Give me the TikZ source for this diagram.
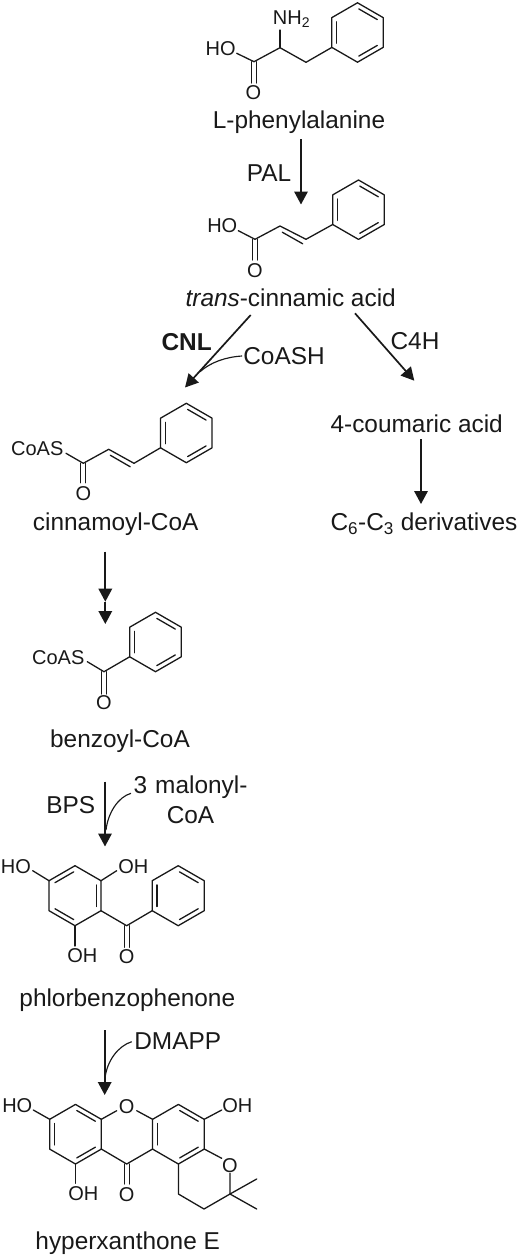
\documentclass[tikz,border=0pt]{standalone}
\usepackage{fontspec}
\setmainfont{Liberation Sans}
\usetikzlibrary{arrows.meta}
\definecolor{ink}{gray}{0.1}
\tikzset{
  bondline/.style={draw=ink,line width=1.3pt,line join=round,line cap=round},
  inner/.style={bondline,shorten <=1.5pt,shorten >=1.5pt},
  rxn/.style={draw=ink,line width=1.7pt,-{Triangle[length=13pt,width=13.5pt]}},
  side/.style={draw=ink,line width=1.15pt},
  cname/.style={text=ink,inner sep=0pt,font=\fontsize{24.4}{28}\selectfont,align=center},
  atom/.style={text=ink,inner sep=0pt,font=\fontsize{20}{22}\selectfont},
}
\newcommand{\hexring}[3]{%
  \draw[bondline] (#1,#2) ++(90:#3) -- ++(-30:#3) -- ++(-90:#3) -- ++(-150:#3) -- ++(150:#3) -- ++(90:#3) -- cycle;
}
\newcommand{\hexin}[4]{%
  \foreach \a/\b in {#4} {\draw[inner] ([shift={(-\a:0.82*#3)}]#1,#2) -- ([shift={(-\b:0.82*#3)}]#1,#2);}%
}
\begin{document}
\begin{tikzpicture}[x=1pt,y=-1pt]
\useasboundingbox (0,0) rectangle (520,1258);
\fill[white] (0,0) rectangle (520,1258);

% --- L-phenylalanine
\hexring{357.5}{32.5}{29.7}
\hexin{357.5}{32.5}{29.7}{-90/-30,30/90,150/210}
\draw[bondline] (331.7,47.5) -- (306,62.3) -- (280,47.7) -- (254,61.7) -- (236.7,53.3);
\draw[bondline] (280,47.7) -- (280,30);
\draw[bondline] (251.5,61.7) -- (251.5,83);
\draw[bondline] (256.5,61.7) -- (256.5,83);
\node[atom] (pheHO) at (220.7,48.3) {HO};
\node[atom] (pheNH) at (291.5,19) {NH\textsubscript{2}};
\node[atom] (pheO) at (253.5,93) {O};
\node[cname] (phe) at (299,122.5) {L-phenylalanine};

% --- trans-cinnamic acid
\hexring{358.5}{209.7}{29.7}
\hexin{358.5}{209.7}{29.7}{-90/-30,30/90,150/210}
\draw[bondline] (332.7,224.5) -- (306,239.3) -- (280,226) -- (255,239.3) -- (238.3,230.7);
\draw[inner] (281,231.5) -- (304,244.5);
\draw[bondline] (252.5,239.3) -- (252.5,260);
\draw[bondline] (257.5,239.3) -- (257.5,260);
\node[atom] (ciaHO) at (222.3,226) {HO};
\node[atom] (ciaO) at (255,270.5) {O};
\node[cname] (cia) at (290.7,297.5) {\textit{trans}-cinnamic acid};

% --- cinnamoyl-CoA
\hexring{186.3}{433}{29.7}
\hexin{186.3}{433}{29.7}{-90/-30,30/90,150/210}
\draw[bondline] (160.7,447.7) -- (134,463.3) -- (108.7,449.3) -- (83.3,463.3) -- (66,453.3);
\draw[inner] (109,454.5) -- (131.5,467.5);
\draw[bondline] (80.8,463.3) -- (80.8,482.7);
\draw[bondline] (85.8,463.3) -- (85.8,482.7);
\node[atom] (cinS) at (37.3,449) {CoAS};
\node[atom] (cinO) at (83.3,493.5) {O};
\node[cname] (cin) at (115.7,524) {cinnamoyl-CoA};

% --- benzoyl-CoA
\hexring{155.5}{642}{29.7}
\hexin{155.5}{642}{29.7}{-90/-30,30/90,150/210}
\draw[bondline] (129.5,656.9) -- (104,671.7) -- (87.3,661.7);
\draw[bondline] (101.5,671.7) -- (101.5,694);
\draw[bondline] (106.5,671.7) -- (106.5,694);
\node[atom] (bzS) at (58.3,658) {CoAS};
\node[atom] (bzO) at (104,703) {O};
\node[cname] (bz) at (120,741) {benzoyl-CoA};

% --- phlorbenzophenone
\hexring{75}{895.7}{30}
\hexin{75}{895.7}{30}{-90/-150,30/-30,150/90}
\hexring{178.2}{895.7}{30}
\hexin{178.2}{895.7}{30}{-90/-30,30/90,150/210}
\draw[bondline] (49,880.7) -- (32.7,870.7);
\draw[bondline] (101,880.7) -- (116.7,870.7);
\draw[bondline] (75,925.7) -- (75,946);
\draw[bondline] (101,910.7) -- (126.7,925.7) -- (152.2,910.7);
\draw[bondline] (124.2,925.7) -- (124.2,947.3);
\draw[bondline] (129.2,925.7) -- (129.2,947.3);
\node[atom] (phHO) at (16,866.7) {HO};
\node[atom] (phOHa) at (133.3,866.7) {OH};
\node[atom] (phOHb) at (82.3,956) {OH};
\node[atom] (phO) at (126.7,956.5) {O};
\node[cname] (ph) at (127.3,1000) {phlorbenzophenone};

% --- hyperxanthone E
\hexring{75.5}{1134.2}{29.8}
\hexin{75.5}{1134.2}{29.8}{-90/-30,30/90,150/210}
\hexring{178.4}{1134.2}{29.8}
\hexin{178.4}{1134.2}{29.8}{-90/-30,30/90,150/210}
\draw[bondline] (49.7,1119.3) -- (33.3,1110);
\draw[bondline] (101.3,1119.3) -- (116.7,1110.7);
\draw[bondline] (136.7,1110.7) -- (152.6,1119.3);
\draw[bondline] (101.3,1149) -- (126.7,1164) -- (152.6,1149);
\draw[bondline] (124.2,1164) -- (124.2,1184);
\draw[bondline] (129.2,1164) -- (129.2,1184);
\draw[bondline] (75.5,1164) -- (75.5,1183.3);
\draw[bondline] (204.2,1119.3) -- (221.7,1110);
\draw[bondline] (204.2,1149) -- (221.7,1158.3);
\draw[bondline] (230,1173.3) -- (230,1194) -- (204,1209) -- (178.4,1194) -- (178.4,1164);
\draw[bondline] (256.7,1179) -- (230,1194) -- (256.7,1209);
\node[atom] (hxHO) at (17.3,1106) {HO};
\node[atom] (hxOa) at (126.7,1107) {O};
\node[atom] (hxOHa) at (237.3,1106) {OH};
\node[atom] (hxOb) at (230,1165.5) {O};
\node[atom] (hxOHb) at (83.3,1194) {OH};
\node[atom] (hxOc) at (126.7,1194.5) {O};
\node[cname] (hx) at (127.7,1243) {hyperxanthone E};

% --- side branch
\node[cname] (coum) at (416.7,424) {4-coumaric acid};
\node[cname] (c6c3) at (424,524) {C\textsubscript{6}-C\textsubscript{3} derivatives};

% --- enzyme and cofactor labels
\node[cname] (pal) at (269,173.5) {PAL};
\node[cname,font=\fontsize{24.4}{28}\selectfont\bfseries] (cnl) at (186.7,342) {CNL};
\node[cname] (coash) at (284,356) {CoASH};
\node[cname] (c4h) at (415,341.5) {C4H};
\node[cname] (bps) at (70.7,805) {BPS};
\node[cname,text width=125pt,font=\fontsize{24.4}{30}\selectfont] (mal) at (190.5,800) {3 malonyl-\\CoA};
\node[cname] (dmapp) at (177.7,1041.5) {DMAPP};

% --- reaction arrows
\coordinate (a1s) at (301,139);   \coordinate (a1e) at (301,204.5);
\coordinate (a2s) at (250.7,315); \coordinate (a2e) at (185,387.5);
\coordinate (a3s) at (355,313.3); \coordinate (a3e) at (414.3,380.7);
\coordinate (a4s) at (421,439);   \coordinate (a4e) at (421,504);
\coordinate (a5s) at (105.3,551.7); \coordinate (a5m) at (105.3,601.7); \coordinate (a5e) at (105.3,624);
\coordinate (a6s) at (105,781.7); \coordinate (a6e) at (105,846.5);
\coordinate (a7s) at (104.7,1030); \coordinate (a7e) at (104.7,1095);
\draw[rxn] (a1s) -- (a1e);
\draw[rxn] (a2s) -- (a2e);
\draw[rxn] (a3s) -- (a3e);
\draw[rxn] (a4s) -- (a4e);
\draw[rxn] (a5s) -- (a5m);
\draw[rxn] (a5m) -- (a5e);
\draw[rxn] (a6s) -- (a6e);
\draw[rxn] (a7s) -- (a7e);

% --- cofactor curves
\coordinate (c1e) at (200,371.7);
\coordinate (c2s) at (131,793.3); \coordinate (c2e) at (106,830);
\coordinate (c3s) at (131.7,1041.7); \coordinate (c3e) at (105,1078);
\draw[side] (coash.west) ++(-1,0) .. controls (226,357) and (211,362) .. (c1e);
\draw[side] (c2s) .. controls (118,797) and (108,813) .. (c2e);
\draw[side] (c3s) .. controls (118,1046) and (107,1061) .. (c3e);
\end{tikzpicture}
\end{document}
